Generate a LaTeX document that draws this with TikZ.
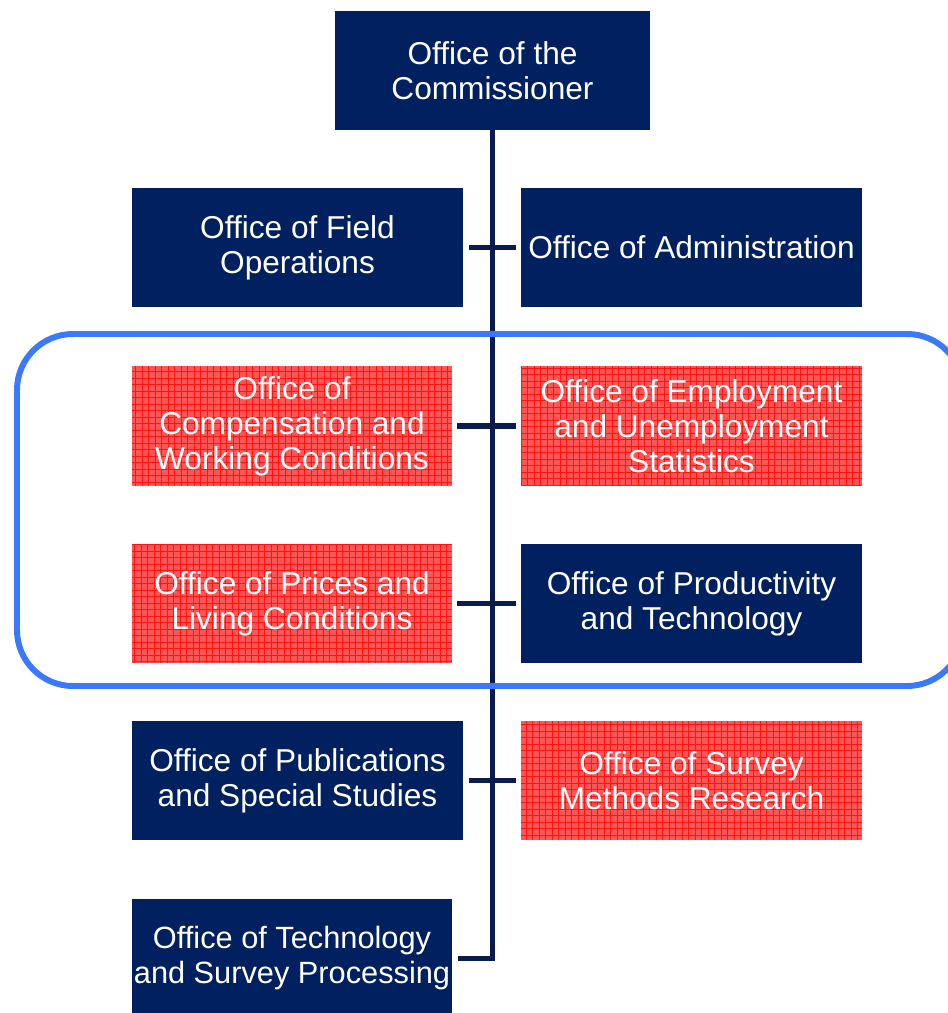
\documentclass[tikz,border=0pt]{standalone}
\usepackage{fontspec}
\setmainfont{Liberation Sans}
\usepackage{xcolor}
\usepackage{tikz}
\usetikzlibrary{positioning}

\definecolor{navy}{RGB}{0,32,96}
\definecolor{trunkblue}{RGB}{10,28,78}
\definecolor{groupblue}{RGB}{58,122,250}
\definecolor{hatchred}{RGB}{255,85,85}
\definecolor{gridred}{RGB}{255,20,20}

\tikzset{
  office/.style={inner sep=0pt, minimum height=2.38cm, align=center, text=white,
    font=\fontsize{18}{19.9}\selectfont},
  navybox/.style={office, fill=navy},
  redbox/.style={office, fill=hatchred,
    path picture={\draw[gridred, line width=0.4pt] (path picture bounding box.south west) grid[step=0.13cm] (path picture bounding box.north east);}},
  trunk/.style={trunkblue, line width=3.4pt},
  tick/.style={trunkblue, line width=2.85pt},
  group/.style={groupblue, line width=3.4pt, rounded corners=1.12cm}
}

\begin{document}
\begin{tikzpicture}[x=0.02cm,y=-0.02cm]
\useasboundingbox (0,0) rectangle (947,1013);
\node[navybox, minimum width=6.3cm] (comm) at (492.5,70.5) {Office of the\\Commissioner};
\node[navybox, minimum width=6.62cm] (field) at (297.5,247.5) {Office of Field\\Operations};
\node[navybox, minimum width=6.82cm] (admin) at (691.5,247.5) {Office of Administration};
\node[redbox, minimum width=6.4cm, minimum height=2.4cm] (comp) at (292,426) {Office of\\Compensation and\\Working Conditions};
\node[redbox, minimum width=6.82cm, minimum height=2.4cm] (empl) at (691.5,426) {Office of Employment\\and Unemployment\\Statistics};
\node[redbox, minimum width=6.4cm] (prices) at (292,603.5) {Office of Prices and\\Living Conditions};
\node[navybox, minimum width=6.82cm] (prod) at (691.5,603.5) {Office of Productivity\\and Technology};
\node[navybox, minimum width=6.62cm] (pubs) at (297.5,780.5) {Office of Publications\\and Special Studies};
\node[redbox, minimum width=6.82cm] (survey) at (691.5,780.5) {Office of Survey\\Methods Research};
\node[navybox, minimum width=6.4cm, font=\fontsize{17.5}{19.9}\selectfont] (tech) at (292,958.5) {Office of Technology\\and Survey Processing};

\draw[trunk] (comm.south) |- ([xshift=0.12cm]tech.east);
\draw[tick, shorten <=0.12cm, shorten >=0.1cm] (field.east) -- (admin.west);
\draw[tick, shorten <=0.1cm, shorten >=0.1cm] (comp.east) -- (empl.west);
\draw[tick, shorten <=0.1cm, shorten >=0.1cm] (prices.east) -- (prod.west);
\draw[tick, shorten <=0.12cm, shorten >=0.1cm] (pubs.east) -- (survey.west);

\draw[group] (17,334) rectangle (963,686);
\end{tikzpicture}
\end{document}
